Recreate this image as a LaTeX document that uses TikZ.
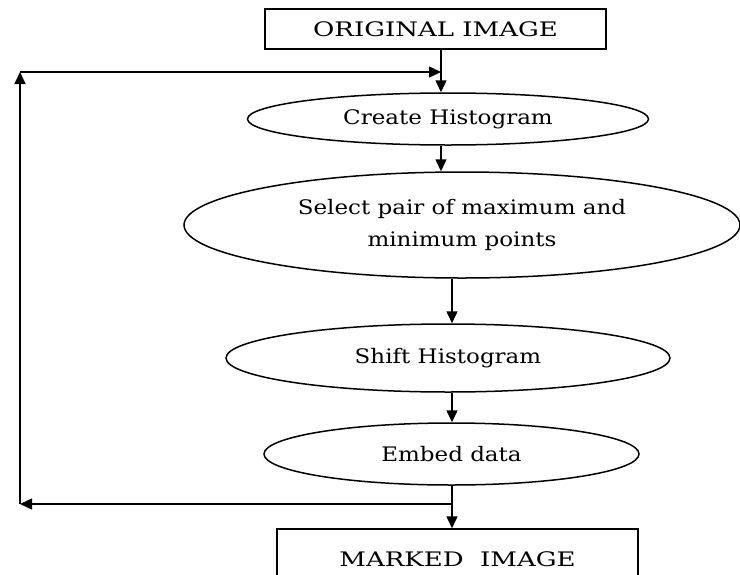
\documentclass[tikz,border=0pt]{standalone}
\usepackage{fontspec}
\setmainfont{DejaVu Serif}
\newfontfamily\ellfont{DejaVu Serif}[FakeStretch=1.15]
\newfontfamily\boxfont{DejaVu Serif}[FakeStretch=1.3]
\usetikzlibrary{shapes.geometric,arrows.meta}
\begin{document}
\begin{tikzpicture}[x=1pt,y=-1pt,
  boxnode/.style={draw,line width=1.5pt,rectangle,inner sep=0pt,font=\boxfont\fontsize{20}{32}\selectfont},
  ellnode/.style={draw,line width=1.5pt,ellipse,inner sep=0pt,align=center,font=\ellfont\fontsize{20}{32}\selectfont},
  conn/.style={line width=1.5pt},
  arr/.style={conn,-{Triangle[length=12pt,width=11pt]}}]
\useasboundingbox (0,0) rectangle (740,574);
\clip (0,0) rectangle (740,574);
\node[boxnode,minimum width=341pt,minimum height=40pt] (orig) at (435.5,29) {ORIGINAL IMAGE};
\node[ellnode,minimum width=401pt,minimum height=52pt] (create) at (448,119) {Create Histogram};
\node[ellnode,minimum width=556pt,minimum height=106pt] (select) at (462,225) {Select pair of maximum and\\minimum points};
\node[ellnode,minimum width=444pt,minimum height=68pt] (shift) at (448,358) {Shift Histogram};
\node[ellnode,minimum width=375pt,minimum height=62pt] (embed) at (451.5,454) {Embed data};
\node[boxnode,minimum width=361pt,minimum height=60pt] (marked) at (457.5,559) {MARKED\ \ IMAGE};
\coordinate (j1) at (441,72);
\coordinate (c1) at (20,72);
\coordinate (j2) at (452,504);
\coordinate (c2) at (20,504);
\draw[arr] (orig.south -| j1) -- (create.north -| j1);
\draw[arr] (c1) -- (j1);
\draw[arr] (c2) -- (c1);
\draw[arr] (j2) -- (c2);
\draw[arr] (create.south -| j1) -- (select.north -| j1);
\draw[arr] (select.south -| j2) -- (shift.north -| j2);
\draw[arr] (shift.south -| j2) -- (embed.north -| j2);
\draw[arr] (embed.south -| j2) -- (marked.north -| j2);
\end{tikzpicture}
\end{document}
